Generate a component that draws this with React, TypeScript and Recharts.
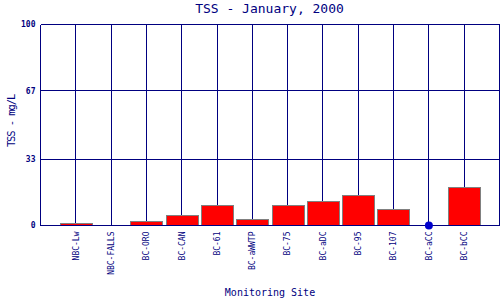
import { ComposedChart, Bar, Line, XAxis, YAxis, CartesianGrid } from "recharts";

const sites = [
  "NBC-Lw",
  "NBC-FALLS",
  "BC-ORO",
  "BC-CAN",
  "BC-61",
  "BC-aWWTP",
  "BC-75",
  "BC-aDC",
  "BC-95",
  "BC-107",
  "BC-aCC",
  "BC-bCC",
];
const tss = [1, 0.2, 2, 5, 10, 3, 10, 12, 15, 8, null, 19];
// sites with no measurable value, plotted as a dot on the zero line
const nonDetect = [null, null, null, null, null, null, null, null, null, null, 0, null];
const yTicks = [0, 33, 67, 100];

const data = sites.map((site, i) => ({ site, tss: tss[i], nd: nonDetect[i] }));

const NAVY = "#000080";
const FONT = "'DejaVu Sans Mono', monospace";

function SiteTick({ x, y, payload }: any) {
  return (
    <text
      x={x}
      y={y}
      transform={`rotate(-90, ${x}, ${y})`}
      textAnchor="end"
      dy="0.35em"
      fontSize={8}
      fontFamily={FONT}
      fill={NAVY}
    >
      {payload.value}
    </text>
  );
}

function YTitle({ viewBox }: any) {
  const cx = viewBox.x + 11;
  const cy = viewBox.y + viewBox.height / 2 - 4;
  return (
    <text
      x={cx}
      y={cy}
      transform={`rotate(-90, ${cx}, ${cy})`}
      textAnchor="middle"
      dy="0.35em"
      fontSize={10.5}
      letterSpacing={-1.1}
      fontFamily={FONT}
      fill={NAVY}
    >
      TSS - mg/L
    </text>
  );
}

function XTitle({ viewBox }: any) {
  return (
    <text
      x={viewBox.x + viewBox.width / 2}
      y={viewBox.y + viewBox.height - 4.5}
      textAnchor="middle"
      fontSize={10}
      fontFamily={FONT}
      fill={NAVY}
    >
      Monitoring Site
    </text>
  );
}

export default function App() {
  return (
    <div
      style={{
        position: "fixed",
        left: 0,
        top: 0,
        width: 500,
        height: 300,
        background: "#fff",
      }}
    >
      <style>{`
        .recharts-cartesian-grid line,
        .recharts-cartesian-axis-line,
        .recharts-bar-rectangle path { shape-rendering: crispEdges; }
      `}</style>
      <div
        style={{
          position: "absolute",
          left: 40,
          top: 1,
          width: 459,
          textAlign: "center",
          fontFamily: FONT,
          fontSize: 13,
          lineHeight: "15px",
          color: NAVY,
        }}
      >
        TSS - January, 2000
      </div>
      <ComposedChart
        width={500}
        height={300}
        data={data}
        margin={{ top: 24.5, right: 0, bottom: 0, left: 0 }}
      >
        <CartesianGrid stroke={NAVY} strokeWidth={1} />
        <XAxis
          dataKey="site"
          interval={0}
          height={74.5}
          padding={{ left: 17.65, right: 17.65 }}
          axisLine={{ stroke: NAVY }}
          tickLine={false}
          tickSize={4}
          tickMargin={2}
          tick={<SiteTick />}
          label={<XTitle />}
        />
        <YAxis
          domain={[0, 100]}
          ticks={yTicks}
          width={40.5}
          axisLine={{ stroke: NAVY }}
          tickLine={false}
          tickSize={3}
          tickMargin={2}
          tick={{ fontSize: 8, fontWeight: "bold", fill: NAVY, fontFamily: FONT }}
          label={<YTitle />}
        />
        <YAxis
          yAxisId="right"
          orientation="right"
          width={0.5}
          domain={[0, 100]}
          tick={false}
          tickLine={false}
          axisLine={{ stroke: NAVY }}
        />
        <Bar
          dataKey="tss"
          barSize={32}
          fill="#ff0000"
          stroke="#808080"
          strokeWidth={1}
          isAnimationActive={false}
        />
        <Line
          dataKey="nd"
          stroke="none"
          dot={{ r: 4, fill: "#0000cc", stroke: "none" }}
          activeDot={false}
          isAnimationActive={false}
        />
      </ComposedChart>
    </div>
  );
}
